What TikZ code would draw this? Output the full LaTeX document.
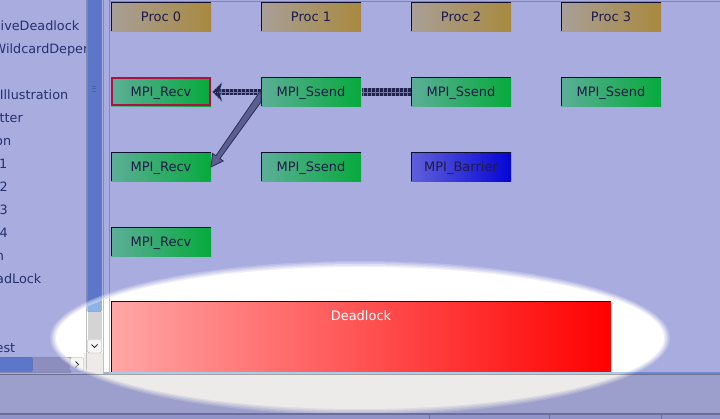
\documentclass[tikz,border=0pt]{standalone}
\usepackage{fontspec}
\setmainfont{DejaVu Sans}
\usetikzlibrary{calc}
\definecolor{lav}{HTML}{A9ACDF}
\definecolor{lavpanel}{HTML}{9C9ECC}
\definecolor{lavstatus}{HTML}{9093C8}
\definecolor{lavline}{HTML}{6A6D9E}
\definecolor{lavborder}{HTML}{8587B5}
\definecolor{topline}{HTML}{7F82B4}
\definecolor{thumbT}{HTML}{5C77C9}
\definecolor{thumbTe}{HTML}{4660B0}
\definecolor{thumbU}{HTML}{8CB2E6}
\definecolor{thumbUe}{HTML}{6A90D0}
\definecolor{trackT}{HTML}{8C8FBE}
\definecolor{trackU}{HTML}{D4D4D4}
\definecolor{btnU}{HTML}{F6F6F6}
\definecolor{btnT}{HTML}{A3A6D8}
\definecolor{greyU}{HTML}{ECEBE9}
\definecolor{lineU}{HTML}{A4A4A4}
\definecolor{lineT}{HTML}{6C6E90}
\definecolor{blueU}{HTML}{A8CBEE}
\definecolor{blueT}{HTML}{6F89D0}
\definecolor{chevU}{HTML}{303030}
\definecolor{chevT}{HTML}{202040}
\definecolor{listtext}{HTML}{24306F}
\definecolor{boxtxt}{HTML}{1E1B48}
\definecolor{procL}{HTML}{A89F98}
\definecolor{procR}{HTML}{A8893E}
\definecolor{grnL}{HTML}{5DAE98}
\definecolor{grnR}{HTML}{06AA3C}
\definecolor{bluL}{HTML}{6060DA}
\definecolor{bluR}{HTML}{0505D6}
\definecolor{redL}{HTML}{FFA6A6}
\definecolor{redR}{HTML}{FF0000}
\definecolor{edgeC}{HTML}{10102E}
\definecolor{hiC}{HTML}{AE1040}
\definecolor{dotD}{HTML}{22244E}
\definecolor{dotL}{HTML}{7477AC}
\definecolor{arrF}{HTML}{5B5E8E}
\definecolor{arrD}{HTML}{2C2E5A}

\newcommand\spotlayer{%
  \fill[white] (0,250) rectangle (720,372.5);
  \fill[blueU] (109,372.5) rectangle (720,374.5);
  \fill[lineU] (0,374.5) rectangle (720,375.5);
  \fill[greyU] (0,375.5) rectangle (720,413);
  \fill[greyU] (84,353.5) rectangle (103,374.5);
  \draw[lineU!70] (86,250) -- (86,374.5) (103,250) -- (103,374.5) (108.7,250) -- (108.7,374.5);
  \filldraw[fill=thumbU, draw=thumbUe, rounded corners=2pt] (87.5,240) rectangle (101.5,312);
  \fill[trackU] (87.5,312) rectangle (101.5,339);
  \filldraw[fill=btnU, draw=lineU, rounded corners=2pt] (87.5,339.5) rectangle (101.5,353);
  \draw[chevU, line width=1pt] (91.5,344.5) -- (94.5,347.5) -- (97.5,344.5);
  \filldraw[fill=trackU, draw=lineU] (32.5,357) rectangle (70,372);
  \filldraw[fill=btnU, draw=lineU, rounded corners=2pt] (70,357.5) rectangle (83.5,371.5);
  \draw[chevU, line width=1pt] (75.5,361.5) -- (78.5,364.5) -- (75.5,367.5);
}

\begin{document}
\begin{tikzpicture}[x=1pt,y=-1pt,
  listfont/.style={font=\fontsize{12.8}{15}\selectfont},
  boxfont/.style={font=\fontsize{13}{15}\selectfont},
  listitem/.style={anchor=base west, inner sep=0pt, text=listtext, listfont},
  box/.style={minimum width=100pt, minimum height=29pt, inner sep=0pt, outer sep=0pt,
    text=boxtxt, boxfont, text height=9.5pt, text depth=0pt},
  procbox/.style={box, left color=procL, right color=procR},
  callbox/.style={box, left color=grnL, right color=grnR},
  barbox/.style={box, left color=bluL, right color=bluR},
  deadbox/.style={minimum width=500pt, minimum height=70pt, inner sep=0pt, outer sep=0pt,
    left color=redL, right color=redR},
  topleft/.style={draw=edgeC, line width=1pt},
  dotbase/.style={draw=dotL, line width=#1},
  dotsq/.style={draw=dotD, line width=#1, dash pattern=on 3pt off 1pt},
  dotmid/.style={draw=dotL, line width=0.8pt},
]
\useasboundingbox (0,0) rectangle (720,419);
% ---------- tinted window ----------
\fill[lav] (0,0) rectangle (720,419);
\begin{scope}
  \clip (0,0) rectangle (85.5,356);
  \node[listitem] (t1) at (0.5,31) {iveDeadlock};
  \node[listitem] (t2) at (-6.5,54) {WildcardDependency};
  \node[listitem] (t3) at (-0.3,100) {Illustration};
  \node[listitem] (t4) at (-0.6,123) {tter};
  \node[listitem] (t5) at (-5,146) {on};
  \node[listitem] (t6) at (-1.2,169) {1};
  \node[listitem] (t7) at (-0.6,192) {2};
  \node[listitem] (t8) at (-0.6,215) {3};
  \node[listitem] (t9) at (-0.6,238) {4};
  \node[listitem] (t10) at (-4.4,261) {n};
  \node[listitem] (t11) at (-4,284) {adLock};
  \node[listitem] (t12) at (-4.5,352.5) {est};
\end{scope}
% vertical scrollbar
\draw[lavborder] (86,0) -- (86,374.5) (103,0) -- (103,374.5) (108.7,0) -- (108.7,375);
\filldraw[fill=thumbT, draw=thumbTe, rounded corners=2pt] (87.5,-3) rectangle (101.5,312);
\draw[thumbTe, line width=0.8pt] (92,86) -- (96,86) (92,88.5) -- (96,88.5) (92,91) -- (96,91);
\fill[trackT] (87.5,312) rectangle (101.5,339);
\filldraw[fill=btnT, draw=lavborder, rounded corners=2pt] (87.5,339.5) rectangle (101.5,353);
\draw[chevT, line width=1pt] (91.5,344.5) -- (94.5,347.5) -- (97.5,344.5);
% horizontal scrollbar
\filldraw[fill=trackT, draw=lavborder] (-1,357) rectangle (70,372);
\filldraw[fill=thumbT, draw=thumbTe, rounded corners=2pt] (-3,357.5) rectangle (32.5,371.5);
\filldraw[fill=btnT, draw=lavborder, rounded corners=2pt] (70,357.5) rectangle (83.5,371.5);
\draw[chevT, line width=1pt] (75.5,361.5) -- (78.5,364.5) -- (75.5,367.5);
\fill[lavpanel] (84,353.5) rectangle (103,374.5);
% canvas edges and bottom panels
\draw[topline] (109,1) -- (720,1);
\fill[blueT] (109,372.5) rectangle (720,374.5);
\fill[lineT] (0,374.5) rectangle (720,375.5);
\fill[lavpanel] (0,375.5) rectangle (720,413);
\fill[lavline] (0,413) rectangle (720,414.5);
\fill[lavstatus] (0,414.5) rectangle (720,419);
\draw[lavline] (429,414.5) -- (429,419) (549,414.5) -- (549,419) (661,414.5) -- (661,419);
% ---------- spotlight (untinted, soft edge) ----------
\foreach \d/\o in {6/0.2,4.5/0.25,3/0.333,1.5/0.5,0/1}{
  \begin{scope}
    \clip (360,338) ellipse [x radius={304+\d}, y radius={71+\d}];
    \begin{scope}[opacity=\o]
      \spotlayer
    \end{scope}
  \end{scope}
}
% ---------- boxes ----------
\node[procbox] (p0) at (161,17) {Proc 0};
\node[procbox] (p1) at (311,17) {Proc 1};
\node[procbox] (p2) at (461,17) {Proc 2};
\node[procbox] (p3) at (611,17) {Proc 3};
\node[callbox] (r0) at (161,92) {MPI\_Recv};
\node[callbox] (s1) at (311,92) {MPI\_Ssend};
\node[callbox] (s2) at (461,92) {MPI\_Ssend};
\node[callbox] (s3) at (611,92) {MPI\_Ssend};
\node[callbox] (r1) at (161,167) {MPI\_Recv};
\node[callbox] (s4) at (311,167) {MPI\_Ssend};
\node[barbox] (b2) at (461,167) {MPI\_Barrier};
\node[callbox] (r2) at (161,242) {MPI\_Recv};
\node[deadbox] (dl) at (361,337) {};
\node[anchor=base, inner sep=0pt, text=white, boxfont] (dlt) at (361,321) {Deadlock};
\foreach \n in {p0,p1,p2,p3,s1,s2,s3,r1,s4,b2,r2,dl}
  \draw[topleft] (\n.south west) -- (\n.north west) -- (\n.north east);
\draw[hiC, line width=2pt] ($(r0.south west)+(1,-1)$) rectangle ($(r0.north east)+(-1,1)$);
% ---------- connectors ----------
% dotted: Proc2 Ssend -> Proc1 Ssend
\coordinate (c2a) at ($(s2.west)+(-0.5,0)$);
\coordinate (c2b) at ($(s1.east)+(0.5,0)$);
\draw[dotbase=8pt] (c2a) -- (c2b);
\draw[dotsq=8pt] (c2a) -- (c2b);
\draw[dotmid] (c2a) -- (c2b);
% dotted arrow: Proc1 Ssend -> Proc0 Recv
\coordinate (c1a) at ($(s1.west)+(-0.5,0)$);
\coordinate (c1b) at ($(r0.east)+(8.5,0)$);
\coordinate (h1t) at ($(r0.east)+(1.5,0)$);
\draw[dotbase=6.5pt] (c1a) -- (c1b);
\draw[dotsq=6.5pt] (c1a) -- (c1b);
\draw[dotmid] (c1a) -- (c1b);
\filldraw[fill=dotD, draw=dotL, line width=0.7pt, dash pattern=on 1pt off 1.3pt, line join=round]
  (h1t) -- ($(h1t)+(9.5,-9.5)$) -- ($(h1t)+(7,0)$) -- ($(h1t)+(9.5,9.5)$) -- cycle;
\draw[dotL, line width=0.8pt, dash pattern=on 1pt off 1.3pt] ($(h1t)+(2.5,0)$) -- (c1b);
% solid arrow: Proc1 Ssend -> Proc0 second Recv
\coordinate (sa) at (s1.west);
\coordinate (ta) at (r1.east);
\filldraw[fill=arrF, draw=arrD, line width=0.8pt, line join=miter]
  ($(sa)+(0,-2)$) -- ($(ta)+(4.9,-11.2)$) -- ($(ta)+(1.6,-13.6)$) -- (ta)
  -- ($(ta)+(12.2,-6)$) -- ($(ta)+(8.9,-8.4)$) -- ($(sa)+(0,10)$) -- cycle;
\end{tikzpicture}
\end{document}
